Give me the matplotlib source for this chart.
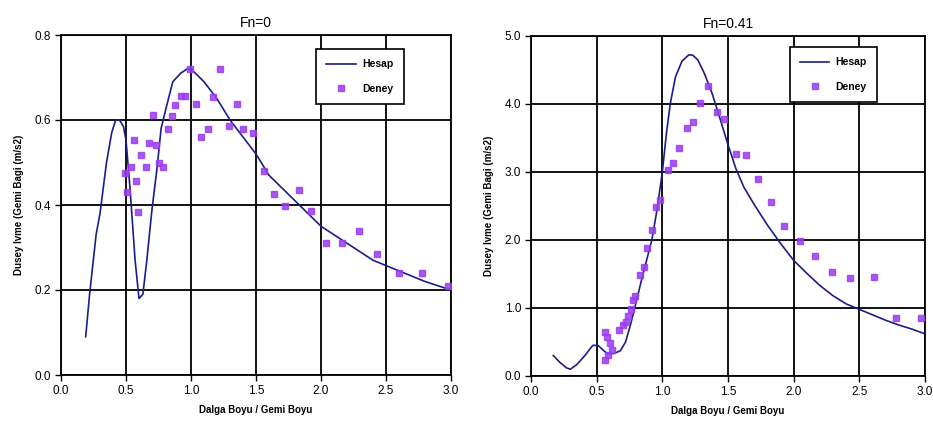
import matplotlib.pyplot as plt
from matplotlib.ticker import FormatStrFormatter

plt.rcParams['font.family'] = ['Liberation Sans', 'DejaVu Sans']

# Fn = 0 : hesap (calculated) curve
hesap0_x = [0.19, 0.22, 0.27, 0.30, 0.35, 0.39, 0.42, 0.45, 0.48, 0.50, 0.53, 0.57, 0.60,
            0.63, 0.66, 0.70, 0.74, 0.77, 0.81, 0.86, 0.92, 0.97, 1.00, 1.10, 1.20, 1.30,
            1.40, 1.50, 1.60, 1.70, 1.80, 1.90, 2.00, 2.20, 2.40, 2.60, 2.80, 3.00]
hesap0_y = [0.09, 0.19, 0.33, 0.38, 0.50, 0.57, 0.60, 0.60, 0.585, 0.553, 0.443, 0.27, 0.18,
            0.19, 0.27, 0.39, 0.49, 0.58, 0.63, 0.69, 0.71, 0.72, 0.72, 0.69, 0.65, 0.60,
            0.56, 0.52, 0.47, 0.44, 0.41, 0.38, 0.35, 0.31, 0.27, 0.245, 0.22, 0.20]

# Fn = 0 : deney (experiment) points
deney0_x = [0.49, 0.505, 0.54, 0.56, 0.58, 0.595, 0.615, 0.65, 0.68, 0.71, 0.73, 0.75, 0.787,
            0.82, 0.85, 0.88, 0.92, 0.95, 0.99, 1.04, 1.08, 1.13, 1.17, 1.22, 1.29, 1.35,
            1.40, 1.48, 1.56, 1.64, 1.72, 1.83, 1.92, 2.04, 2.16, 2.29, 2.43, 2.60, 2.78, 2.98]
deney0_y = [0.475, 0.43, 0.49, 0.553, 0.457, 0.383, 0.518, 0.49, 0.547, 0.612, 0.54, 0.50, 0.49,
            0.58, 0.61, 0.635, 0.656, 0.656, 0.72, 0.637, 0.56, 0.58, 0.655, 0.72, 0.585, 0.637,
            0.579, 0.569, 0.48, 0.426, 0.398, 0.435, 0.387, 0.31, 0.31, 0.34, 0.285, 0.24, 0.24, 0.21]

# Fn = 0.41 : hesap curve
hesap41_x = [0.17, 0.22, 0.27, 0.30, 0.35, 0.41, 0.47, 0.51, 0.55, 0.58, 0.63, 0.68, 0.72,
             0.76, 0.80, 0.84, 0.88, 0.92, 0.96, 1.00, 1.03, 1.06, 1.10, 1.15, 1.20, 1.23,
             1.27, 1.32, 1.38, 1.44, 1.50, 1.56, 1.62, 1.70, 1.80, 1.90, 2.00, 2.10, 2.20,
             2.30, 2.40, 2.50, 2.60, 2.70, 2.80, 2.90, 3.00]
hesap41_y = [0.30, 0.20, 0.12, 0.10, 0.17, 0.30, 0.45, 0.45, 0.38, 0.33, 0.33, 0.37, 0.50,
             0.77, 1.08, 1.40, 1.70, 2.00, 2.45, 3.00, 3.55, 4.00, 4.40, 4.63, 4.72, 4.72,
             4.65, 4.45, 4.15, 3.78, 3.40, 3.05, 2.78, 2.52, 2.22, 1.95, 1.70, 1.51, 1.33,
             1.18, 1.06, 0.98, 0.90, 0.82, 0.75, 0.69, 0.62]

# Fn = 0.41 : deney points
deney41_x = [0.56, 0.56, 0.58, 0.59, 0.60, 0.62, 0.67, 0.70, 0.72, 0.74, 0.76, 0.78, 0.79,
             0.83, 0.86, 0.88, 0.92, 0.95, 0.98, 1.04, 1.08, 1.13, 1.19, 1.23, 1.29, 1.35,
             1.42, 1.47, 1.56, 1.64, 1.73, 1.83, 1.93, 2.05, 2.16, 2.29, 2.43, 2.61, 2.78, 2.97]
deney41_y = [0.65, 0.24, 0.58, 0.31, 0.48, 0.38, 0.68, 0.75, 0.80, 0.88, 0.99, 1.12, 1.17,
             1.48, 1.61, 1.88, 2.15, 2.48, 2.59, 3.03, 3.13, 3.35, 3.64, 3.74, 4.02, 4.26,
             3.88, 3.78, 3.27, 3.25, 2.90, 2.56, 2.20, 1.99, 1.76, 1.53, 1.44, 1.45, 0.86, 0.86]

line_color = '#1c1c8a'
pt_color = '#9a3cf0'
ylabel = 'Dusey Ivme (Gemi Bagi (m/s2)'
xlabel = 'Dalga Boyu / Gemi Boyu'

fig = plt.figure(figsize=(9.33, 4.29), dpi=100)
ax1 = fig.add_axes([61 / 933, 1 - 375 / 429, 390 / 933, 340 / 429])
ax2 = fig.add_axes([531 / 933, 1 - 376 / 429, 394 / 933, 340 / 429])

panels = [
    (ax1, hesap0_x, hesap0_y, deney0_x, deney0_y, 'Fn=0', 0.8, 0.2, (0.654, 0.959)),
    (ax2, hesap41_x, hesap41_y, deney41_x, deney41_y, 'Fn=0.41', 5.0, 1.0, (0.657, 0.968)),
]

for ax, hx, hy, dx, dy, title, ymax, ystep, leg_pos in panels:
    ax.plot(hx, hy, color=line_color, lw=1.2, label='Hesap', zorder=3)
    ax.plot(dx, dy, ls='none', marker='s', ms=4.5, color=pt_color, mec=pt_color,
            alpha=0.85, label='Deney', zorder=4)
    ax.set_xlim(0, 3.0)
    ax.set_ylim(0, ymax)
    ax.set_xticks([0, 0.5, 1.0, 1.5, 2.0, 2.5, 3.0])
    ax.set_yticks([i * ystep for i in range(int(round(ymax / ystep)) + 1)])
    ax.xaxis.set_major_formatter(FormatStrFormatter('%.1f'))
    ax.yaxis.set_major_formatter(FormatStrFormatter('%.1f'))
    ax.grid(True, color='black', lw=1.3)
    ax.set_axisbelow(True)
    for s in ax.spines.values():
        s.set_color('black')
        s.set_linewidth(1.3)
    ax.tick_params(direction='out', length=4, width=1, labelsize=8.5, pad=3, colors='black')
    ax.set_title(title, fontsize=10, pad=6)
    ax.set_xlabel(xlabel, fontsize=7, fontweight='bold', labelpad=6)
    ax.set_ylabel(ylabel, fontsize=7, fontweight='bold', labelpad=8)
    leg = ax.legend(loc='upper left', bbox_to_anchor=leg_pos, fancybox=False,
                    framealpha=1, edgecolor='black', handlelength=2.8,
                    borderpad=1.0, labelspacing=1.4, borderaxespad=0, handletextpad=0.6,
                    prop={'weight': 'bold', 'size': 7.5})
    leg.get_frame().set_linewidth(1.2)

fig.savefig('out.png', dpi=100)
